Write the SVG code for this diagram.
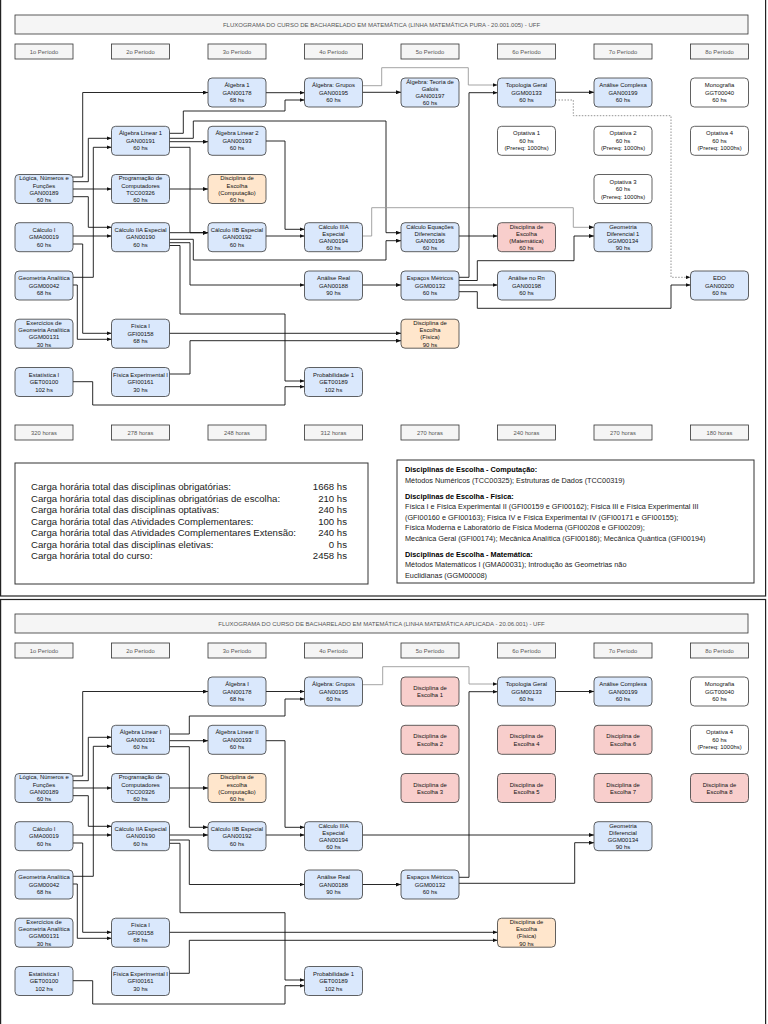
<svg xmlns="http://www.w3.org/2000/svg" width="768" height="1024" viewBox="0 0 768 1024">
<defs>
<style>
text{font-family:"Liberation Sans",Arial,sans-serif}
.nb{fill:#dae8fc;stroke:#3a3a3a;stroke-width:0.8}
.no{fill:#ffe6cc;stroke:#3a3a3a;stroke-width:0.8}
.np{fill:#f8cecc;stroke:#3a3a3a;stroke-width:0.8}
.nw{fill:#ffffff;stroke:#3a3a3a;stroke-width:0.8}
.pb{fill:#f5f5f5;stroke:#333;stroke-width:0.8}
.t{font-size:5.9px;fill:#111;text-anchor:middle}
.pt{font-size:5.8px;fill:#555;text-anchor:middle}
.tt{font-size:6px;fill:#555;text-anchor:middle}
.c{fill:none;stroke:#111;stroke-width:0.9;marker-end:url(#ah)}
.g{fill:none;stroke:#9a9a9a;stroke-width:0.9;marker-end:url(#ah)}
.d{fill:none;stroke:#888;stroke-width:0.9;stroke-dasharray:1.5 1.5;marker-end:url(#ah)}
.st{font-size:9.6px;fill:#222}
.sr{font-size:7.3px;fill:#222}
.sb{font-size:7.3px;fill:#000;font-weight:bold}
</style>
<marker id="ah" viewBox="0 0 5 4" refX="5" refY="2" markerWidth="5" markerHeight="4" markerUnits="userSpaceOnUse" orient="auto"><path d="M0,0 L5,2 L0,4 z" fill="#111"/></marker>
</defs>
<rect width="768" height="1024" fill="#fff"/>
<g id="page-frames" fill="none" stroke="#222" stroke-width="1.2">
<rect x="0.6" y="-2" width="765" height="598"/>
<rect x="0.6" y="599.5" width="765" height="430"/>
</g>

<!-- ================= TOP ================= -->
<g id="top-header">
<rect class="pb" x="15" y="15" width="733" height="19"/>
<text class="tt" x="381.5" y="26.6">FLUXOGRAMA DO CURSO DE BACHARELADO EM MATEMÁTICA (LINHA MATEMÁTICA PURA - 20.001.005) - UFF</text>
</g>
<g id="top-periods">
<rect class="pb" x="15" y="44" width="58" height="15"/><text class="pt" x="44" y="53.5">1o Período</text>
<rect class="pb" x="111.5" y="44" width="58" height="15"/><text class="pt" x="140.5" y="53.5">2o Período</text>
<rect class="pb" x="208" y="44" width="58" height="15"/><text class="pt" x="237" y="53.5">3o Período</text>
<rect class="pb" x="304.5" y="44" width="58" height="15"/><text class="pt" x="333.5" y="53.5">4o Período</text>
<rect class="pb" x="401" y="44" width="58" height="15"/><text class="pt" x="430" y="53.5">5o Período</text>
<rect class="pb" x="497.5" y="44" width="58" height="15"/><text class="pt" x="526.5" y="53.5">6o Período</text>
<rect class="pb" x="594" y="44" width="58" height="15"/><text class="pt" x="623" y="53.5">7o Período</text>
<rect class="pb" x="690.5" y="44" width="58" height="15"/><text class="pt" x="719.5" y="53.5">8o Período</text>
</g>
<g id="top-hours">
<rect class="pb" x="15" y="425" width="58" height="15"/><text class="pt" x="44" y="434.5">320 horas</text>
<rect class="pb" x="111.5" y="425" width="58" height="15"/><text class="pt" x="140.5" y="434.5">278 horas</text>
<rect class="pb" x="208" y="425" width="58" height="15"/><text class="pt" x="237" y="434.5">248 horas</text>
<rect class="pb" x="304.5" y="425" width="58" height="15"/><text class="pt" x="333.5" y="434.5">312 horas</text>
<rect class="pb" x="401" y="425" width="58" height="15"/><text class="pt" x="430" y="434.5">270 horas</text>
<rect class="pb" x="497.5" y="425" width="58" height="15"/><text class="pt" x="526.5" y="434.5">240 horas</text>
<rect class="pb" x="594" y="425" width="58" height="15"/><text class="pt" x="623" y="434.5">270 horas</text>
<rect class="pb" x="690.5" y="425" width="58" height="15"/><text class="pt" x="719.5" y="434.5">180 horas</text>
</g>

<g id="top-connectors">
<path class="c" d="M73,177 H82.7 V92.5 H208"/>
<path class="c" d="M73,181.7 H88.3 V138.3 H111.5"/>
<path class="c" d="M73,189 H111.5"/>
<path class="c" d="M73,196.7 H88.3 V227.3 H111.5"/>
<path class="c" d="M73,277.3 H93.3 V147.3 H111.5"/>
<path class="c" d="M73,236 H111.5"/>
<path class="c" d="M73,244 H82.7 V333.3 H111.5"/>
<path class="c" d="M73,285 H77.3 V339.3 H111.5"/>
<path class="c" d="M73,381.7 H92.7 V405 H285 V386.7 H304.5"/>
<path class="c" d="M169.5,133.3 H183.3 V111 H285 V100 H304.5"/>
<path class="c" d="M169.5,138.3 H193.3 V121 H386 V232.7 H401"/>
<path class="c" d="M169.5,141.7 H208"/>
<path class="c" d="M169.5,147.3 H190 V232.7 H208"/>
<path class="c" d="M169.5,189 H208"/>
<path class="c" d="M169.5,232.7 H208"/>
<path class="c" d="M169.5,239.3 H193.3 V260 H386 V240.7 H401"/>
<path class="c" d="M169.5,242.7 H190 V285 H304.5"/>
<path class="c" d="M169.5,245.5 H180 V314 H285 V381 H304.5"/>
<path class="c" d="M169.5,333.3 H401"/>
<path class="c" d="M169.5,374 H190 V340.7 H401"/>
<path class="c" d="M266,141 H285 V229.3 H304.5"/>
<path class="c" d="M266,92.7 H304.5"/>
<path class="c" d="M266,236 H304.5"/>
<path class="g" d="M362.5,236 H371.7 V207.7 H573.3 V227.3 H594"/>
<path class="c" d="M362.5,92.3 H401"/>
<path class="g" d="M362.5,85.7 H381.7 V67.7 H468.3 V85 H497.5"/>
<path class="c" d="M459,277.3 H469 V92.7 H497.5"/>
<path class="c" d="M459,236 H497.5"/>
<path class="c" d="M459,280.5 H477.3 V260.7 H574 V236 H594"/>
<path class="c" d="M459,285 H497.5"/>
<path class="c" d="M459,291.7 H477.3 V308.3 H671 V285 H690.5"/>
<path class="c" d="M362.5,285 H401"/>
<path class="c" d="M555.5,92.3 H594"/>
<path class="d" d="M555.5,100 H573.3 V115.7 H671 V277.3 H690.5"/>
</g>

<g id="t_alg1"><rect class="nb" x="208" y="78" width="58" height="29" rx="4"/><text class="t"><tspan x="237" y="87.1">Álgebra 1</tspan><tspan x="237" y="94.6">GAN00178</tspan><tspan x="237" y="102.1">68 hs</tspan></text></g>
<g id="t_grupos"><rect class="nb" x="304.5" y="78" width="58" height="29" rx="4"/><text class="t"><tspan x="333.5" y="87.1">Álgebra: Grupos</tspan><tspan x="333.5" y="94.6">GAN00195</tspan><tspan x="333.5" y="102.1">60 hs</tspan></text></g>
<g id="t_galois"><rect class="nb" x="401" y="78" width="58" height="29" rx="4"/><text class="t"><tspan x="430" y="83.8">Álgebra: Teoria de</tspan><tspan x="430" y="91">Galois</tspan><tspan x="430" y="98.2">GAN00197</tspan><tspan x="430" y="105.4">60 hs</tspan></text></g>
<g id="t_topol"><rect class="nb" x="497.5" y="78" width="58" height="29" rx="4"/><text class="t"><tspan x="526.5" y="87.1">Topologia Geral</tspan><tspan x="526.5" y="94.6">GGM00133</tspan><tspan x="526.5" y="102.1">60 hs</tspan></text></g>
<g id="t_complexa"><rect class="nb" x="594" y="78" width="58" height="29" rx="4"/><text class="t"><tspan x="623" y="87.1">Análise Complexa</tspan><tspan x="623" y="94.6">GAN00199</tspan><tspan x="623" y="102.1">60 hs</tspan></text></g>
<g id="t_mono"><rect class="nw" x="690.5" y="78" width="58" height="29" rx="4"/><text class="t"><tspan x="719.5" y="87.1">Monografia</tspan><tspan x="719.5" y="94.6">GGT00040</tspan><tspan x="719.5" y="102.1">60 hs</tspan></text></g>

<g id="t_alglin1"><rect class="nb" x="111.5" y="126.3" width="58" height="29" rx="4"/><text class="t"><tspan x="140.5" y="135.4">Álgebra Linear 1</tspan><tspan x="140.5" y="142.9">GAN00191</tspan><tspan x="140.5" y="150.4">60 hs</tspan></text></g>
<g id="t_alglin2"><rect class="nb" x="208" y="126.3" width="58" height="29" rx="4"/><text class="t"><tspan x="237" y="135.4">Álgebra Linear 2</tspan><tspan x="237" y="142.9">GAN00193</tspan><tspan x="237" y="150.4">60 hs</tspan></text></g>
<g id="t_opt1"><rect class="nw" x="497.5" y="126.3" width="58" height="29" rx="4"/><text class="t"><tspan x="526.5" y="135.4">Optativa 1</tspan><tspan x="526.5" y="142.9">60 hs</tspan><tspan x="526.5" y="150.4">(Prereq: 1000hs)</tspan></text></g>
<g id="t_opt2"><rect class="nw" x="594" y="126.3" width="58" height="29" rx="4"/><text class="t"><tspan x="623" y="135.4">Optativa 2</tspan><tspan x="623" y="142.9">60 hs</tspan><tspan x="623" y="150.4">(Prereq: 1000hs)</tspan></text></g>
<g id="t_opt4"><rect class="nw" x="690.5" y="126.3" width="58" height="29" rx="4"/><text class="t"><tspan x="719.5" y="135.4">Optativa 4</tspan><tspan x="719.5" y="142.9">60 hs</tspan><tspan x="719.5" y="150.4">(Prereq: 1000hs)</tspan></text></g>

<g id="t_logica"><rect class="nb" x="15" y="174.5" width="58" height="29" rx="4"/><text class="t"><tspan x="44" y="180.3">Lógica, Números e</tspan><tspan x="44" y="187.5">Funções</tspan><tspan x="44" y="194.7">GAN00189</tspan><tspan x="44" y="201.9">60 hs</tspan></text></g>
<g id="t_prog"><rect class="nb" x="111.5" y="174.5" width="58" height="29" rx="4"/><text class="t"><tspan x="140.5" y="180.3">Programação de</tspan><tspan x="140.5" y="187.5">Computadores</tspan><tspan x="140.5" y="194.7">TCC00326</tspan><tspan x="140.5" y="201.9">60 hs</tspan></text></g>
<g id="t_esccomp"><rect class="no" x="208" y="174.5" width="58" height="29" rx="4"/><text class="t"><tspan x="237" y="180.3">Disciplina de</tspan><tspan x="237" y="187.5">Escolha</tspan><tspan x="237" y="194.7">(Computação)</tspan><tspan x="237" y="201.9">60 hs</tspan></text></g>
<g id="t_opt3"><rect class="nw" x="594" y="174.5" width="58" height="29" rx="4"/><text class="t"><tspan x="623" y="183.6">Optativa 3</tspan><tspan x="623" y="191.1">60 hs</tspan><tspan x="623" y="198.6">(Prereq: 1000hs)</tspan></text></g>

<g id="t_calc1"><rect class="nb" x="15" y="222.7" width="58" height="29" rx="4"/><text class="t"><tspan x="44" y="231.8">Cálculo I</tspan><tspan x="44" y="239.3">GMA00019</tspan><tspan x="44" y="246.8">60 hs</tspan></text></g>
<g id="t_calc2a"><rect class="nb" x="111.5" y="222.7" width="58" height="29" rx="4"/><text class="t"><tspan x="140.5" y="231.8">Cálculo IIA Especial</tspan><tspan x="140.5" y="239.3">GAN00190</tspan><tspan x="140.5" y="246.8">60 hs</tspan></text></g>
<g id="t_calc2b"><rect class="nb" x="208" y="222.7" width="58" height="29" rx="4"/><text class="t"><tspan x="237" y="231.8">Cálculo IIB Especial</tspan><tspan x="237" y="239.3">GAN00192</tspan><tspan x="237" y="246.8">60 hs</tspan></text></g>
<g id="t_calc3a"><rect class="nb" x="304.5" y="222.7" width="58" height="29" rx="4"/><text class="t"><tspan x="333.5" y="228.5">Cálculo IIIA</tspan><tspan x="333.5" y="235.7">Especial</tspan><tspan x="333.5" y="242.9">GAN00194</tspan><tspan x="333.5" y="250.1">60 hs</tspan></text></g>
<g id="t_eqdif"><rect class="nb" x="401" y="222.7" width="58" height="29" rx="4"/><text class="t"><tspan x="430" y="228.5">Cálculo Equações</tspan><tspan x="430" y="235.7">Diferenciais</tspan><tspan x="430" y="242.9">GAN00196</tspan><tspan x="430" y="250.1">60 hs</tspan></text></g>
<g id="t_escmat"><rect class="np" x="497.5" y="222.7" width="58" height="29" rx="4"/><text class="t"><tspan x="526.5" y="228.5">Disciplina de</tspan><tspan x="526.5" y="235.7">Escolha</tspan><tspan x="526.5" y="242.9">(Matemática)</tspan><tspan x="526.5" y="250.1">60 hs</tspan></text></g>
<g id="t_geodif"><rect class="nb" x="594" y="222.7" width="58" height="29" rx="4"/><text class="t"><tspan x="623" y="228.5">Geometria</tspan><tspan x="623" y="235.7">Diferencial 1</tspan><tspan x="623" y="242.9">GGM00134</tspan><tspan x="623" y="250.1">90 hs</tspan></text></g>

<g id="t_geoanal"><rect class="nb" x="15" y="271" width="58" height="29" rx="4"/><text class="t"><tspan x="44" y="280.1">Geometria Analítica</tspan><tspan x="44" y="287.6">GGM00042</tspan><tspan x="44" y="295.1">68 hs</tspan></text></g>
<g id="t_analreal"><rect class="nb" x="304.5" y="271" width="58" height="29" rx="4"/><text class="t"><tspan x="333.5" y="280.1">Análise Real</tspan><tspan x="333.5" y="287.6">GAN00188</tspan><tspan x="333.5" y="295.1">90 hs</tspan></text></g>
<g id="t_espmet"><rect class="nb" x="401" y="271" width="58" height="29" rx="4"/><text class="t"><tspan x="430" y="280.1">Espaços Métricos</tspan><tspan x="430" y="287.6">GGM00132</tspan><tspan x="430" y="295.1">60 hs</tspan></text></g>
<g id="t_analrn"><rect class="nb" x="497.5" y="271" width="58" height="29" rx="4"/><text class="t"><tspan x="526.5" y="280.1">Análise no Rn</tspan><tspan x="526.5" y="287.6">GAN00198</tspan><tspan x="526.5" y="295.1">60 hs</tspan></text></g>
<g id="t_edo"><rect class="nb" x="690.5" y="271" width="58" height="29" rx="4"/><text class="t"><tspan x="719.5" y="280.1">EDO</tspan><tspan x="719.5" y="287.6">GAN00200</tspan><tspan x="719.5" y="295.1">60 hs</tspan></text></g>

<g id="t_exerc"><rect class="nb" x="15" y="319.2" width="58" height="29" rx="4"/><text class="t"><tspan x="44" y="325">Exercícios de</tspan><tspan x="44" y="332.2">Geometria Analítica</tspan><tspan x="44" y="339.4">GGM00131</tspan><tspan x="44" y="346.6">30 hs</tspan></text></g>
<g id="t_fis1"><rect class="nb" x="111.5" y="319.2" width="58" height="29" rx="4"/><text class="t"><tspan x="140.5" y="328.3">Física I</tspan><tspan x="140.5" y="335.8">GFI00158</tspan><tspan x="140.5" y="343.3">68 hs</tspan></text></g>
<g id="t_escfis"><rect class="no" x="401" y="319.2" width="58" height="29" rx="4"/><text class="t"><tspan x="430" y="325">Disciplina de</tspan><tspan x="430" y="332.2">Escolha</tspan><tspan x="430" y="339.4">(Física)</tspan><tspan x="430" y="346.6">90 hs</tspan></text></g>

<g id="t_estat"><rect class="nb" x="15" y="367.5" width="58" height="29" rx="4"/><text class="t"><tspan x="44" y="376.6">Estatística I</tspan><tspan x="44" y="384.1">GET00100</tspan><tspan x="44" y="391.6">102 hs</tspan></text></g>
<g id="t_fisexp"><rect class="nb" x="111.5" y="367.5" width="58" height="29" rx="4"/><text class="t"><tspan x="140.5" y="376.6">Física Experimental I</tspan><tspan x="140.5" y="384.1">GFI00161</tspan><tspan x="140.5" y="391.6">30 hs</tspan></text></g>
<g id="t_prob"><rect class="nb" x="304.5" y="367.5" width="58" height="29" rx="4"/><text class="t"><tspan x="333.5" y="376.6">Probabilidade 1</tspan><tspan x="333.5" y="384.1">GET00189</tspan><tspan x="333.5" y="391.6">102 hs</tspan></text></g>

<g id="stats-totals">
<rect x="15" y="463" width="353" height="121" fill="#fff" stroke="#333" stroke-width="1"/>
<text class="st" x="31" y="490">Carga horária total das disciplinas obrigatórias:</text><text class="st" x="347" y="490" text-anchor="end">1668 hs</text>
<text class="st" x="31" y="501.5">Carga horária total das disciplinas obrigatórias de escolha:</text><text class="st" x="347" y="501.5" text-anchor="end">210 hs</text>
<text class="st" x="31" y="513">Carga horária total das disciplinas optativas:</text><text class="st" x="347" y="513" text-anchor="end">240 hs</text>
<text class="st" x="31" y="524.5">Carga horária total das Atividades Complementares:</text><text class="st" x="347" y="524.5" text-anchor="end">100 hs</text>
<text class="st" x="31" y="536">Carga horária total das Atividades Complementares Extensão:</text><text class="st" x="347" y="536" text-anchor="end">240 hs</text>
<text class="st" x="31" y="547.5">Carga horária total das disciplinas eletivas:</text><text class="st" x="347" y="547.5" text-anchor="end">0 hs</text>
<text class="st" x="31" y="559">Carga horária total do curso:</text><text class="st" x="347" y="559" text-anchor="end">2458 hs</text>
</g>
<g id="stats-electives">
<rect x="397" y="460" width="357" height="123" fill="#fff" stroke="#333" stroke-width="1"/>
<text class="sb" x="405" y="472">Disciplinas de Escolha - Computação:</text>
<text class="sr" x="405" y="482.5">Métodos Numéricos (TCC00325); Estruturas de Dados (TCC00319)</text>
<text class="sb" x="405" y="498.5">Disciplinas de Escolha - Física:</text>
<text class="sr" x="405" y="509">Física I e Física Experimental II (GFI00159 e GFI00162); Física III e Física  Experimental III</text>
<text class="sr" x="405" y="519.5">(GFI00160 e GFI00163); Física IV e Física Experimental IV (GFI00171 e GFI00155);</text>
<text class="sr" x="405" y="530">Física Moderna e Laboratório de Física Moderna (GFI00208 e GFI00209);</text>
<text class="sr" x="405" y="540.5">Mecânica Geral (GFI00174); Mecânica Analítica (GFI00186); Mecânica Quântica (GFI00194)</text>
<text class="sb" x="405" y="556.5">Disciplinas de Escolha - Matemática:</text>
<text class="sr" x="405" y="567">Métodos Matemáticos I (GMA00031); Introdução às Geometrias não</text>
<text class="sr" x="405" y="577.5">Euclidianas (GGM00008)</text>
</g>

<!-- ================= BOTTOM ================= -->
<g id="bot-header">
<rect class="pb" x="15" y="614" width="733" height="19"/>
<text class="tt" x="381.5" y="625.6">FLUXOGRAMA DO CURSO DE BACHARELADO EM MATEMÁTICA (LINHA MATEMÁTICA APLICADA - 20.06.001) - UFF</text>
</g>
<g id="bot-periods">
<rect class="pb" x="15" y="643" width="58" height="15"/><text class="pt" x="44" y="652.5">1o Período</text>
<rect class="pb" x="111.5" y="643" width="58" height="15"/><text class="pt" x="140.5" y="652.5">2o Período</text>
<rect class="pb" x="208" y="643" width="58" height="15"/><text class="pt" x="237" y="652.5">3o Período</text>
<rect class="pb" x="304.5" y="643" width="58" height="15"/><text class="pt" x="333.5" y="652.5">4o Período</text>
<rect class="pb" x="401" y="643" width="58" height="15"/><text class="pt" x="430" y="652.5">5o Período</text>
<rect class="pb" x="497.5" y="643" width="58" height="15"/><text class="pt" x="526.5" y="652.5">6o Período</text>
<rect class="pb" x="594" y="643" width="58" height="15"/><text class="pt" x="623" y="652.5">7o Período</text>
<rect class="pb" x="690.5" y="643" width="58" height="15"/><text class="pt" x="719.5" y="652.5">8o Período</text>
</g>

<g id="bot-connectors">
<path class="c" d="M73,776 H82.7 V691.5 H208"/>
<path class="c" d="M73,780.7 H88.3 V737.3 H111.5"/>
<path class="c" d="M73,788 H111.5"/>
<path class="c" d="M73,795.7 H88.3 V826.3 H111.5"/>
<path class="c" d="M73,876.3 H93.3 V746.3 H111.5"/>
<path class="c" d="M73,835 H111.5"/>
<path class="c" d="M73,843 H82.7 V932.3 H111.5"/>
<path class="c" d="M73,884 H77.3 V938.3 H111.5"/>
<path class="c" d="M73,980.7 H92.7 V1004 H285 V985.7 H304.5"/>
<path class="c" d="M169.5,734 H189.3 V716 H285 V699 H304.5"/>
<path class="c" d="M169.5,740.7 H208"/>
<path class="c" d="M169.5,746.7 H189.3 V827.3 H208"/>
<path class="c" d="M169.5,788 H208"/>
<path class="c" d="M169.5,835 H208"/>
<path class="c" d="M169.5,840 H189.3 V884.5 H304.5"/>
<path class="c" d="M169.5,843.3 H180 V912.7 H285 V980 H304.5"/>
<path class="c" d="M169.5,932.3 H497.5"/>
<path class="c" d="M169.5,973.3 H189.3 V940.3 H497.5"/>
<path class="c" d="M266,740.7 H285 V827.3 H304.5"/>
<path class="c" d="M266,835 H304.5"/>
<path class="c" d="M362.5,835 H594"/>
<path class="c" d="M266,691.5 H304.5"/>
<path class="g" d="M362.5,684.7 H382.7 V666.7 H469 V684 H497.5"/>
<path class="c" d="M459,877.3 H469 V691.7 H497.5"/>
<path class="c" d="M459,883.3 H574.7 V842.7 H594"/>
<path class="c" d="M362.5,884.5 H401"/>
<path class="c" d="M555.5,691.5 H594"/>
</g>

<g id="b_alg1"><rect class="nb" x="208" y="677" width="58" height="29" rx="4"/><text class="t"><tspan x="237" y="686.1">Álgebra I</tspan><tspan x="237" y="693.6">GAN00178</tspan><tspan x="237" y="701.1">68 hs</tspan></text></g>
<g id="b_grupos"><rect class="nb" x="304.5" y="677" width="58" height="29" rx="4"/><text class="t"><tspan x="333.5" y="686.1">Álgebra: Grupos</tspan><tspan x="333.5" y="693.6">GAN00195</tspan><tspan x="333.5" y="701.1">60 hs</tspan></text></g>
<g id="b_esc1"><rect class="np" x="401" y="677" width="58" height="29" rx="4"/><text class="t"><tspan x="430" y="690">Disciplina de</tspan><tspan x="430" y="697.2">Escolha 1</tspan></text></g>
<g id="b_topol"><rect class="nb" x="497.5" y="677" width="58" height="29" rx="4"/><text class="t"><tspan x="526.5" y="686.1">Topologia Geral</tspan><tspan x="526.5" y="693.6">GGM00133</tspan><tspan x="526.5" y="701.1">60 hs</tspan></text></g>
<g id="b_complexa"><rect class="nb" x="594" y="677" width="58" height="29" rx="4"/><text class="t"><tspan x="623" y="686.1">Análise Complexa</tspan><tspan x="623" y="693.6">GAN00199</tspan><tspan x="623" y="701.1">60 hs</tspan></text></g>
<g id="b_mono"><rect class="nw" x="690.5" y="677" width="58" height="29" rx="4"/><text class="t"><tspan x="719.5" y="686.1">Monografia</tspan><tspan x="719.5" y="693.6">GGT00040</tspan><tspan x="719.5" y="701.1">60 hs</tspan></text></g>

<g id="b_alglin1"><rect class="nb" x="111.5" y="725.3" width="58" height="29" rx="4"/><text class="t"><tspan x="140.5" y="734.4">Álgebra Linear I</tspan><tspan x="140.5" y="741.9">GAN00191</tspan><tspan x="140.5" y="749.4">60 hs</tspan></text></g>
<g id="b_alglin2"><rect class="nb" x="208" y="725.3" width="58" height="29" rx="4"/><text class="t"><tspan x="237" y="734.4">Álgebra Linear II</tspan><tspan x="237" y="741.9">GAN00193</tspan><tspan x="237" y="749.4">60 hs</tspan></text></g>
<g id="b_esc2"><rect class="np" x="401" y="725.3" width="58" height="29" rx="4"/><text class="t"><tspan x="430" y="738.3">Disciplina de</tspan><tspan x="430" y="745.5">Escolha 2</tspan></text></g>
<g id="b_esc4"><rect class="np" x="497.5" y="725.3" width="58" height="29" rx="4"/><text class="t"><tspan x="526.5" y="738.3">Disciplina de</tspan><tspan x="526.5" y="745.5">Escolha 4</tspan></text></g>
<g id="b_esc6"><rect class="np" x="594" y="725.3" width="58" height="29" rx="4"/><text class="t"><tspan x="623" y="738.3">Disciplina de</tspan><tspan x="623" y="745.5">Escolha 6</tspan></text></g>
<g id="b_opt4"><rect class="nw" x="690.5" y="725.3" width="58" height="29" rx="4"/><text class="t"><tspan x="719.5" y="734.4">Optativa 4</tspan><tspan x="719.5" y="741.9">60 hs</tspan><tspan x="719.5" y="749.4">(Prereq: 1000hs)</tspan></text></g>

<g id="b_logica"><rect class="nb" x="15" y="773.5" width="58" height="29" rx="4"/><text class="t"><tspan x="44" y="779.3">Lógica, Números e</tspan><tspan x="44" y="786.5">Funções</tspan><tspan x="44" y="793.7">GAN00189</tspan><tspan x="44" y="800.9">60 hs</tspan></text></g>
<g id="b_prog"><rect class="nb" x="111.5" y="773.5" width="58" height="29" rx="4"/><text class="t"><tspan x="140.5" y="779.3">Programação de</tspan><tspan x="140.5" y="786.5">Computadores</tspan><tspan x="140.5" y="793.7">TCC00326</tspan><tspan x="140.5" y="800.9">60 hs</tspan></text></g>
<g id="b_esccomp"><rect class="no" x="208" y="773.5" width="58" height="29" rx="4"/><text class="t"><tspan x="237" y="779.3">Disciplina de</tspan><tspan x="237" y="786.5">escolha</tspan><tspan x="237" y="793.7">(Computação)</tspan><tspan x="237" y="800.9">60 hs</tspan></text></g>
<g id="b_esc3"><rect class="np" x="401" y="773.5" width="58" height="29" rx="4"/><text class="t"><tspan x="430" y="786.5">Disciplina de</tspan><tspan x="430" y="793.7">Escolha 3</tspan></text></g>
<g id="b_esc5"><rect class="np" x="497.5" y="773.5" width="58" height="29" rx="4"/><text class="t"><tspan x="526.5" y="786.5">Disciplina de</tspan><tspan x="526.5" y="793.7">Escolha 5</tspan></text></g>
<g id="b_esc7"><rect class="np" x="594" y="773.5" width="58" height="29" rx="4"/><text class="t"><tspan x="623" y="786.5">Disciplina de</tspan><tspan x="623" y="793.7">Escolha 7</tspan></text></g>
<g id="b_esc8"><rect class="np" x="690.5" y="773.5" width="58" height="29" rx="4"/><text class="t"><tspan x="719.5" y="786.5">Disciplina de</tspan><tspan x="719.5" y="793.7">Escolha 8</tspan></text></g>

<g id="b_calc1"><rect class="nb" x="15" y="821.7" width="58" height="29" rx="4"/><text class="t"><tspan x="44" y="830.8">Cálculo I</tspan><tspan x="44" y="838.3">GMA00019</tspan><tspan x="44" y="845.8">60 hs</tspan></text></g>
<g id="b_calc2a"><rect class="nb" x="111.5" y="821.7" width="58" height="29" rx="4"/><text class="t"><tspan x="140.5" y="830.8">Cálculo IIA Especial</tspan><tspan x="140.5" y="838.3">GAN00190</tspan><tspan x="140.5" y="845.8">60 hs</tspan></text></g>
<g id="b_calc2b"><rect class="nb" x="208" y="821.7" width="58" height="29" rx="4"/><text class="t"><tspan x="237" y="830.8">Cálculo IIB Especial</tspan><tspan x="237" y="838.3">GAN00192</tspan><tspan x="237" y="845.8">60 hs</tspan></text></g>
<g id="b_calc3a"><rect class="nb" x="304.5" y="821.7" width="58" height="29" rx="4"/><text class="t"><tspan x="333.5" y="827.5">Cálculo IIIA</tspan><tspan x="333.5" y="834.7">Especial</tspan><tspan x="333.5" y="841.9">GAN00194</tspan><tspan x="333.5" y="849.1">60 hs</tspan></text></g>
<g id="b_geodif"><rect class="nb" x="594" y="821.7" width="58" height="29" rx="4"/><text class="t"><tspan x="623" y="827.5">Geometria</tspan><tspan x="623" y="834.7">Diferencial</tspan><tspan x="623" y="841.9">GGM00134</tspan><tspan x="623" y="849.1">90 hs</tspan></text></g>

<g id="b_geoanal"><rect class="nb" x="15" y="870" width="58" height="29" rx="4"/><text class="t"><tspan x="44" y="879.1">Geometria Analítica</tspan><tspan x="44" y="886.6">GGM00042</tspan><tspan x="44" y="894.1">68 hs</tspan></text></g>
<g id="b_analreal"><rect class="nb" x="304.5" y="870" width="58" height="29" rx="4"/><text class="t"><tspan x="333.5" y="879.1">Análise Real</tspan><tspan x="333.5" y="886.6">GAN00188</tspan><tspan x="333.5" y="894.1">90 hs</tspan></text></g>
<g id="b_espmet"><rect class="nb" x="401" y="870" width="58" height="29" rx="4"/><text class="t"><tspan x="430" y="879.1">Espaços Métricos</tspan><tspan x="430" y="886.6">GGM00132</tspan><tspan x="430" y="894.1">60 hs</tspan></text></g>

<g id="b_exerc"><rect class="nb" x="15" y="918.2" width="58" height="29" rx="4"/><text class="t"><tspan x="44" y="924">Exercícios de</tspan><tspan x="44" y="931.2">Geometria Analítica</tspan><tspan x="44" y="938.4">GGM00131</tspan><tspan x="44" y="945.6">30 hs</tspan></text></g>
<g id="b_fis1"><rect class="nb" x="111.5" y="918.2" width="58" height="29" rx="4"/><text class="t"><tspan x="140.5" y="927.3">Física I</tspan><tspan x="140.5" y="934.8">GFI00158</tspan><tspan x="140.5" y="942.3">68 hs</tspan></text></g>
<g id="b_escfis"><rect class="no" x="497.5" y="918.2" width="58" height="29" rx="4"/><text class="t"><tspan x="526.5" y="924">Disciplina de</tspan><tspan x="526.5" y="931.2">Escolha</tspan><tspan x="526.5" y="938.4">(Física)</tspan><tspan x="526.5" y="945.6">90 hs</tspan></text></g>

<g id="b_estat"><rect class="nb" x="15" y="966.5" width="58" height="29" rx="4"/><text class="t"><tspan x="44" y="975.6">Estatística I</tspan><tspan x="44" y="983.1">GET00100</tspan><tspan x="44" y="990.6">102 hs</tspan></text></g>
<g id="b_fisexp"><rect class="nb" x="111.5" y="966.5" width="58" height="29" rx="4"/><text class="t"><tspan x="140.5" y="975.6">Física Experimental I</tspan><tspan x="140.5" y="983.1">GFI00161</tspan><tspan x="140.5" y="990.6">30 hs</tspan></text></g>
<g id="b_prob"><rect class="nb" x="304.5" y="966.5" width="58" height="29" rx="4"/><text class="t"><tspan x="333.5" y="975.6">Probabilidade 1</tspan><tspan x="333.5" y="983.1">GET00189</tspan><tspan x="333.5" y="990.6">102 hs</tspan></text></g>
</svg>
